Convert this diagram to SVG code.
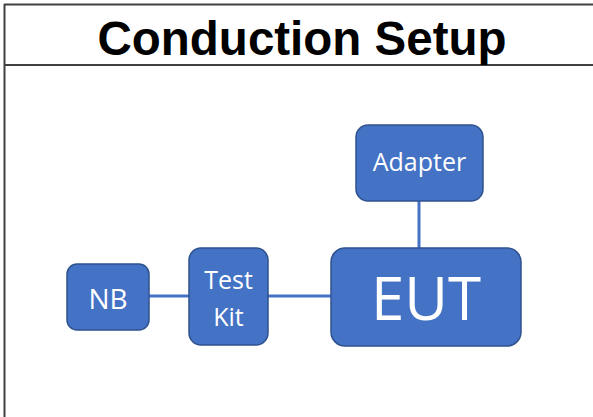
<svg xmlns="http://www.w3.org/2000/svg" width="593" height="417" viewBox="0 0 593 417">
  <style>
    .box { fill: #4472C4; stroke: #2F528F; stroke-width: 1.5; }
    .lbl { fill: #ffffff; font-family: "Open Sans", "Noto Sans", sans-serif; text-anchor: middle; }
    .wire { stroke: #4472C4; stroke-width: 3; fill: none; }
    .frame { stroke: #404040; stroke-width: 2; fill: none; }
  </style>
  <rect width="593" height="417" fill="#ffffff"/>
  <g id="frame">
    <line class="frame" x1="4.5" y1="4" x2="4.5" y2="417"/>
    <line class="frame" x1="4" y1="4.5" x2="593" y2="4.5"/>
    <line class="frame" x1="4" y1="65" x2="593" y2="65"/>
    <text x="302" y="55" font-family="'Liberation Sans', Arial, sans-serif" font-weight="bold" font-size="47.5" text-anchor="middle" fill="#000000">Conduction Setup</text>
  </g>
  <g id="connectors">
    <line class="wire" x1="149" y1="296" x2="189" y2="296"/>
    <line class="wire" x1="268" y1="296" x2="331" y2="296"/>
    <line class="wire" x1="419" y1="201" x2="419" y2="248"/>
  </g>
  <g id="nb">
    <rect class="box" x="67" y="264" width="82" height="66" rx="10"/>
    <text class="lbl" x="108" y="309" font-size="28">NB</text>
  </g>
  <g id="testkit">
    <rect class="box" x="189" y="248" width="79" height="97" rx="12"/>
    <text class="lbl" x="228.5" y="289" font-size="25">Test</text>
    <text class="lbl" x="228.5" y="326" font-size="25">Kit</text>
  </g>
  <g id="eut">
    <rect class="box" x="331" y="248" width="190" height="98" rx="14"/>
    <text class="lbl" x="426" y="320" font-size="60">EUT</text>
  </g>
  <g id="adapter">
    <rect class="box" x="356" y="125" width="127" height="76" rx="12"/>
    <text class="lbl" x="419.5" y="171" font-size="25">Adapter</text>
  </g>
</svg>
